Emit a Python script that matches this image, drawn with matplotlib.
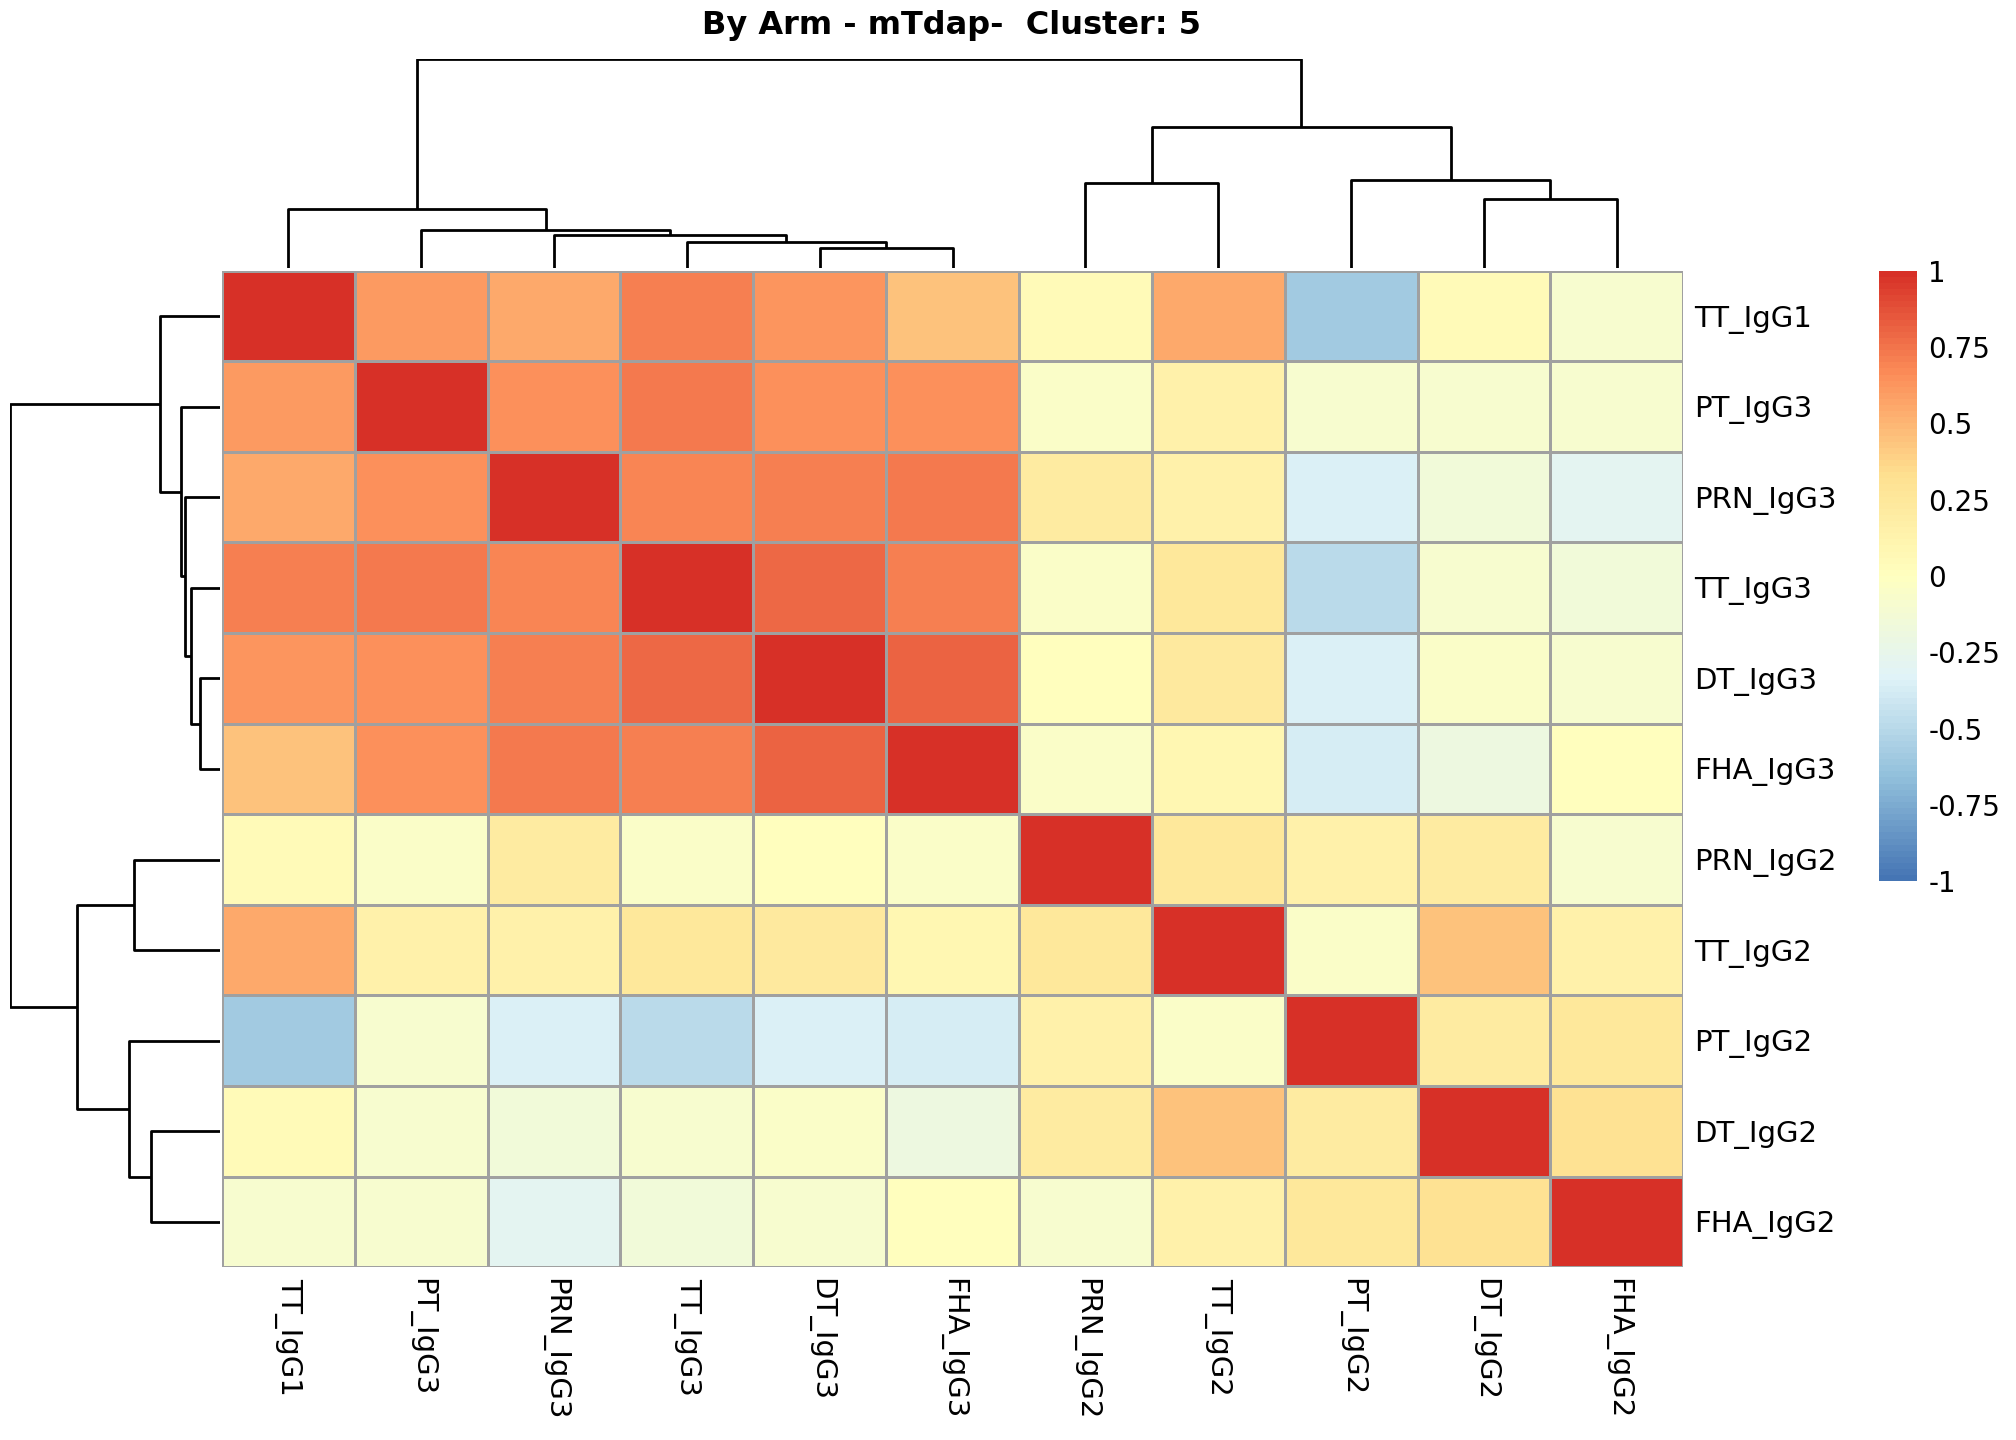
import numpy as np
import matplotlib
matplotlib.use("Agg")
import matplotlib.pyplot as plt
from matplotlib.colors import LinearSegmentedColormap

labels = ["TT_IgG1","PT_IgG3","PRN_IgG3","TT_IgG3","DT_IgG3","FHA_IgG3",
          "PRN_IgG2","TT_IgG2","PT_IgG2","DT_IgG2","FHA_IgG2"]
corr = np.array([
 [1.00, .60, .55, .70, .62, .45, .05, .55,-.60, .05,-.10],
 [ .60,1.00, .65, .72, .65, .65,-.05, .15,-.10,-.10,-.10],
 [ .55, .65,1.00, .68, .70, .72, .20, .15,-.35,-.15,-.30],
 [ .70, .72, .68,1.00, .78, .70,-.05, .25,-.50,-.10,-.15],
 [ .62, .65, .70, .78,1.00, .82, .00, .22,-.35,-.05,-.10],
 [ .45, .65, .72, .70, .82,1.00,-.05, .08,-.38,-.20, .00],
 [ .05,-.05, .20,-.05, .00,-.05,1.00, .25, .15, .20,-.10],
 [ .55, .15, .15, .25, .22, .08, .25,1.00,-.05, .45, .15],
 [-.60,-.10,-.35,-.50,-.35,-.38, .15,-.05,1.00, .20, .25],
 [ .05,-.10,-.15,-.10,-.05,-.20, .20, .45, .20,1.00, .30],
 [-.10,-.10,-.30,-.15,-.10, .00,-.10, .15, .25, .30,1.00]])

# trees: (height, left, right), leaves = indices
col_tree = (160, (45, 0, (29, 1, (25, 2, (20, 3, (15, 4, 5))))),
                 (108, (65, 6, 7), (67, 8, (53, 9, 10))))
row_tree = (162, (46, 0, (30, 1, (27, 2, (22, 3, (15, 4, 5))))),
                 (110, (66, 6, 7), (70, 8, (53, 9, 10))))

W, H = 2016, 1440
fig = plt.figure(figsize=(W/100, H/100), dpi=100)
L, R, T, B = 0.110, 0.835, 0.812, 0.120
ax = fig.add_axes([L, B, R-L, T-B])
cols7 = ["#4575B4","#91BFDB","#E0F3F8","#FFFFBF","#FEE090","#FC8D59","#D73027"]
cmap = LinearSegmentedColormap.from_list("rdylbu", cols7, N=100)
n = len(labels)
im = ax.pcolormesh(np.arange(n+1), np.arange(n+1), corr, cmap=cmap, vmin=-1, vmax=1,
                   edgecolors="#A0A0A0", linewidth=2)
ax.set_xlim(0, n); ax.set_ylim(n, 0)
ax.set_xticks(np.arange(n)+0.5)
ax.set_xticklabels(labels, rotation=270, fontsize=21)
ax.yaxis.tick_right()
ax.set_yticks(np.arange(n)+0.5)
ax.set_yticklabels(labels, fontsize=21)
ax.tick_params(length=0, pad=8)
for s in ax.spines.values(): s.set_visible(False)

def draw(node, axd, horiz):
    if isinstance(node, int):
        return node + 0.5, 0
    h, a, b = node
    pa, ha = draw(a, axd, horiz)
    pb, hb = draw(b, axd, horiz)
    xs = [pa, pa, pb, pb]; ys = [ha, h, h, hb]
    if horiz:
        axd.plot(xs, ys, color="black", lw=2, solid_capstyle="butt")
    else:
        axd.plot(ys, xs, color="black", lw=2, solid_capstyle="butt")
    return (pa+pb)/2, h

axc = fig.add_axes([L, 1-0.186, R-L, 0.186-0.041])
draw(col_tree, axc, True)
axc.set_xlim(0, n); axc.set_ylim(0, 160); axc.axis("off")

axr = fig.add_axes([0.005, B, 0.109-0.005, T-B])
draw(row_tree, axr, False)
axr.set_ylim(n, 0); axr.set_xlim(162, 0); axr.axis("off")

cax = fig.add_axes([0.932, 1-0.612, 0.019, 0.612-0.188])
cb = fig.colorbar(im, cax=cax, ticks=[-1,-.75,-.5,-.25,0,.25,.5,.75,1])
cb.ax.set_yticklabels(["-1","-0.75","-0.5","-0.25","0","0.25","0.5","0.75","1"])
cb.ax.tick_params(labelsize=20, length=0, pad=8)
cb.outline.set_visible(False)

fig.text(0.472, 0.982, "By Arm - mTdap-  Cluster: 5", ha="center", va="center",
         fontsize=23, fontweight="bold")
fig.savefig("out.png", dpi=100)
